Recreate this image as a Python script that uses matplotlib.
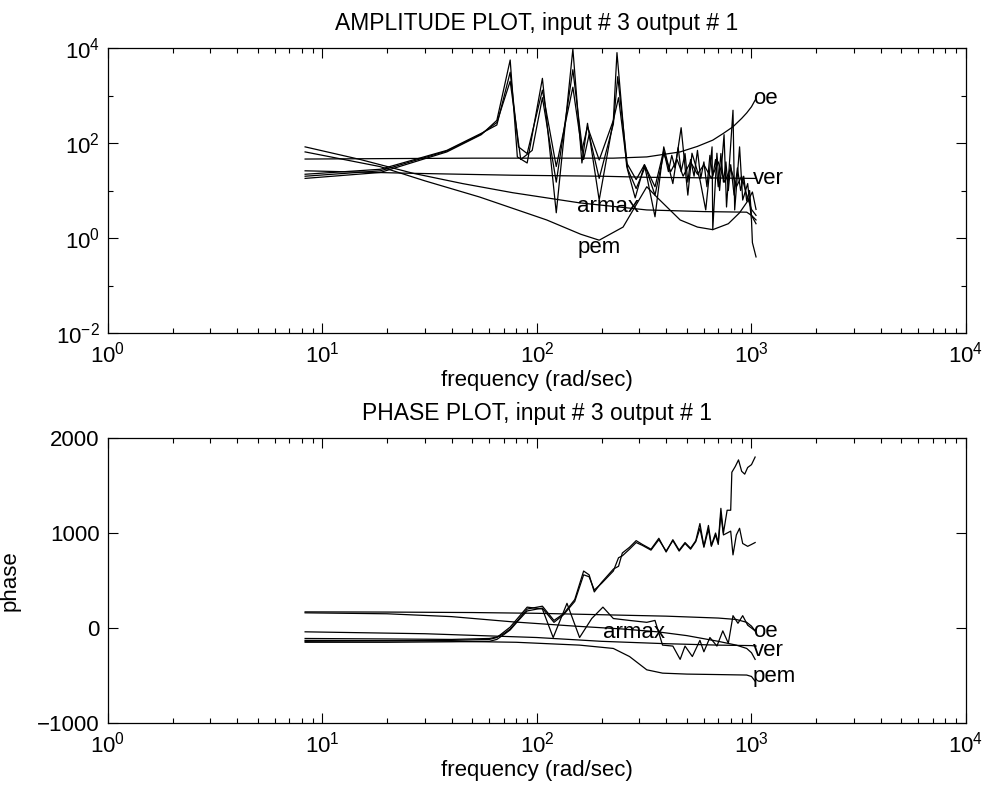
import matplotlib
matplotlib.use("Agg")
import matplotlib.pyplot as plt
from matplotlib.ticker import FixedLocator, LogLocator, LogFormatterSciNotation, NullFormatter

plt.rcParams['font.family'] = ['Liberation Sans', 'DejaVu Sans']
plt.rcParams['font.size'] = 16

# ---- amplitude data (rad/sec, gain) ----
amp_a_f = [8.3, 18.6, 38, 55, 65, 75, 81, 90, 106, 123, 147, 162, 172, 195, 227, 236, 262, 287,
           317, 355, 390, 430, 470, 505, 528, 575, 612, 655, 660, 690, 710, 745, 765, 820, 835,
           880, 910, 960, 1000, 1010, 1050]
amp_a = [18, 24, 65, 150, 300, 5600, 51, 38, 2300, 3.4, 9500, 38, 260, 6.3, 300, 8000, 32, 7,
         35, 2.8, 83, 14, 210, 8, 61, 17, 3.9, 83, 1.5, 61, 10, 150, 4.5, 490, 3.9,
         83, 6.3, 14, 2.4, 0.8, 0.4]

amp_b_f = [8.3, 18.6, 38, 55, 65, 75, 82, 90, 106, 123, 147, 162, 172, 195, 227, 240, 262, 290,
           317, 355, 390, 410, 425, 440, 455, 470, 490, 505, 520, 540, 560, 580, 600, 620, 640,
           660, 680, 700, 720, 740, 760, 780, 800, 830, 860, 890, 920, 950, 980, 1000, 1050]
amp_b = [22, 28, 70, 160, 240, 3100, 83, 60, 1300, 32, 1500, 70, 220, 44, 300, 900, 38, 17,
         35, 12, 70, 25, 55, 30, 80, 25, 60, 15, 45, 20, 70, 18, 40, 12, 55,
         20, 45, 12, 60, 15, 40, 10, 35, 8, 30, 10, 20, 6, 10, 3, 2]

amp_c_f = [8.3, 18.6, 38, 55, 65, 75, 84, 95, 106, 123, 147, 165, 175, 195, 227, 238, 265, 290,
           320, 355, 390, 420, 450, 480, 520, 560, 600, 650, 700, 750, 800, 850, 900, 950,
           1000, 1050]
amp_c = [20, 26, 68, 155, 270, 2000, 45, 70, 900, 15, 3500, 45, 150, 18, 250, 2500, 28, 11,
         32, 8, 60, 25, 45, 20, 40, 22, 35, 18, 40, 15, 30, 12, 20, 8,
         4, 3]

amp_oe_f = [8.3, 20, 50, 100, 227, 325, 465, 560, 660, 740, 820, 900, 950, 1000, 1040]
amp_oe = [46, 47, 48, 48, 48, 51, 65, 85, 115, 160, 220, 330, 430, 580, 800]

amp_ver_f = [8.3, 26.5, 77, 200, 325, 600, 1000, 1050]
amp_ver = [26, 23, 21, 20, 19, 18.5, 18, 18]

amp_armax_f = [8.3, 15, 26.5, 45, 77, 158, 325, 600, 950, 1000, 1050]
amp_armax = [83, 45, 23, 14, 9, 5.5, 3.9, 3.6, 3.5, 3.0, 2.4]

amp_pem_f = [8.3, 18.5, 30, 54, 111, 160, 195, 252, 290, 325, 365, 465, 560, 660, 780, 880,
             960, 1010, 1050]
amp_pem = [65, 32, 16, 7.3, 2.4, 1.2, 0.9, 1.7, 5, 12, 7, 2.4, 1.7, 1.5, 2.0, 3.4,
           6, 9.3, 4]

# ---- phase data (degrees) ----
ph_a_f = [8.3, 20, 40, 60, 65, 70, 75, 82, 90, 106, 120, 133, 150, 165, 175, 185, 200, 227, 240,
          250, 270, 290, 310, 340, 370, 400, 430, 460, 490, 520, 550, 575, 600, 630, 650, 680,
          700, 720, 740, 770, 800, 810, 840, 870, 900, 930, 960, 1000, 1040]
ph_a = [-110, -115, -120, -110, -95, -60, -10, 90, 200, 230, 80, 150, 300, 600, 560, 380, 480,
        620, 650, 790, 850, 920, 880, 830, 945, 800, 930, 820, 900, 840, 920, 1100, 860, 1080,
        870, 1000, 900, 1260, 1000, 1240, 1240, 1640, 1700, 1770, 1650, 1620, 1690, 1720, 1800]

ph_b_f = [8.3, 20, 40, 60, 65, 70, 75, 82, 90, 106, 120, 133, 150, 165, 175, 185, 200, 227, 240,
          250, 270, 290, 310, 340, 370, 400, 430, 460, 490, 520, 550, 575, 600, 630, 650, 680,
          700, 720, 740, 770, 800, 820, 850, 880, 910, 960, 1000, 1040]
ph_b = [-150, -150, -145, -140, -120, -70, -20, 80, 180, 210, 60, 140, 280, 560, 540, 400, 470,
        600, 740, 760, 830, 900, 870, 820, 930, 810, 920, 810, 890, 830, 910, 1050, 850, 1040,
        860, 980, 880, 1200, 980, 1000, 1020, 770, 980, 1050, 890, 860, 880, 900]

ph_c_f = [8.3, 20, 40, 60, 65, 75, 90, 106, 119, 138, 158, 180, 203, 227, 270, 325, 355, 385,
          430, 465, 490, 530, 575, 600, 640, 690, 735, 780, 820, 865, 910, 960, 1000, 1040]
ph_c = [-140, -135, -130, -120, -100, 10, 220, 200, -100, 260, -100, 100, 220, 100, 80, 60, 80,
        -180, -190, -330, -190, -300, -130, -250, -100, -190, -30, -160, 130, 50, 130, 30, 0, -30]

ph_oe_f = [8.3, 20, 50, 100, 200, 400, 700, 850, 950, 1000, 1040]
ph_oe = [170, 168, 163, 155, 140, 125, 105, 90, 60, 20, -30]

ph_ver_f = [8.3, 20, 40, 77, 150, 250, 365, 500, 700, 850, 950, 1000, 1040]
ph_ver = [160, 150, 120, 65, 20, -10, -40, -80, -140, -180, -215, -260, -330]

ph_armax_f = [8.3, 30, 100, 200, 400, 700, 1000, 1050]
ph_armax = [-40, -60, -100, -140, -165, -180, -185, -190]

ph_pem_f = [8.3, 30, 80, 158, 227, 270, 325, 385, 500, 700, 950, 1000, 1040]
ph_pem = [-130, -135, -150, -180, -215, -300, -440, -475, -485, -490, -495, -510, -560]

lw = 0.9
fig = plt.figure(figsize=(9.86, 7.94), dpi=100)
ax1 = fig.add_axes([0.1095, 0.5806, 0.8702, 0.3589])
ax2 = fig.add_axes([0.1095, 0.0894, 0.8702, 0.3589])

# amplitude
for f, v in [(amp_a_f, amp_a), (amp_b_f, amp_b), (amp_c_f, amp_c), (amp_oe_f, amp_oe),
             (amp_ver_f, amp_ver), (amp_armax_f, amp_armax), (amp_pem_f, amp_pem)]:
    ax1.plot(f, v, color='black', lw=lw)
ax1.set_xscale('log')
ax1.set_yscale('log')
ax1.set_xlim(1, 1e4)
ax1.set_ylim(1e-2, 1e4)
ax1.yaxis.set_major_locator(FixedLocator([1e-2, 1, 1e2, 1e4]))
ax1.yaxis.set_major_formatter(LogFormatterSciNotation())
ax1.yaxis.set_minor_locator(FixedLocator([1e-1, 10, 1e3]))
ax1.yaxis.set_minor_formatter(NullFormatter())
ax1.text(1016, 850, 'oe', ha='left', va='center')
ax1.text(1016, 18, 'ver', ha='left', va='center')
ax1.text(154, 4.5, 'armax', ha='left', va='center')
ax1.text(154, 0.62, 'pem', ha='left', va='center')
ax1.set_title('AMPLITUDE PLOT, input # 3 output # 1', fontsize=16.5, pad=13)
ax1.set_xlabel('frequency (rad/sec)', labelpad=2)

# phase
for f, v in [(ph_a_f, ph_a), (ph_b_f, ph_b), (ph_c_f, ph_c), (ph_oe_f, ph_oe),
             (ph_ver_f, ph_ver), (ph_armax_f, ph_armax), (ph_pem_f, ph_pem)]:
    ax2.plot(f, v, color='black', lw=lw)
ax2.set_xscale('log')
ax2.set_xlim(1, 1e4)
ax2.set_ylim(-1000, 2000)
ax2.set_yticks([-1000, 0, 1000, 2000])
ax2.text(1016, -35, 'oe', ha='left', va='center')
ax2.text(1016, -235, 'ver', ha='left', va='center')
ax2.text(1016, -515, 'pem', ha='left', va='center')
ax2.text(203, -42, 'armax', ha='left', va='center')
ax2.set_title('PHASE PLOT, input # 3 output # 1', fontsize=16.5, pad=13)
ax2.set_xlabel('frequency (rad/sec)', labelpad=2)
ax2.set_ylabel('phase', labelpad=12)

for ax in (ax1, ax2):
    ax.xaxis.set_major_locator(LogLocator(base=10, numticks=10))
    ax.xaxis.set_minor_locator(LogLocator(base=10, subs=range(2, 10), numticks=20))
    ax.xaxis.set_minor_formatter(NullFormatter())
    ax.tick_params(which='both', direction='in', top=True, right=True, width=0.8)
    ax.tick_params(which='major', length=7, pad=6)
    ax.tick_params(which='minor', length=3.5)
    for s in ax.spines.values():
        s.set_linewidth(0.9)

fig.savefig('out.png', dpi=100)
